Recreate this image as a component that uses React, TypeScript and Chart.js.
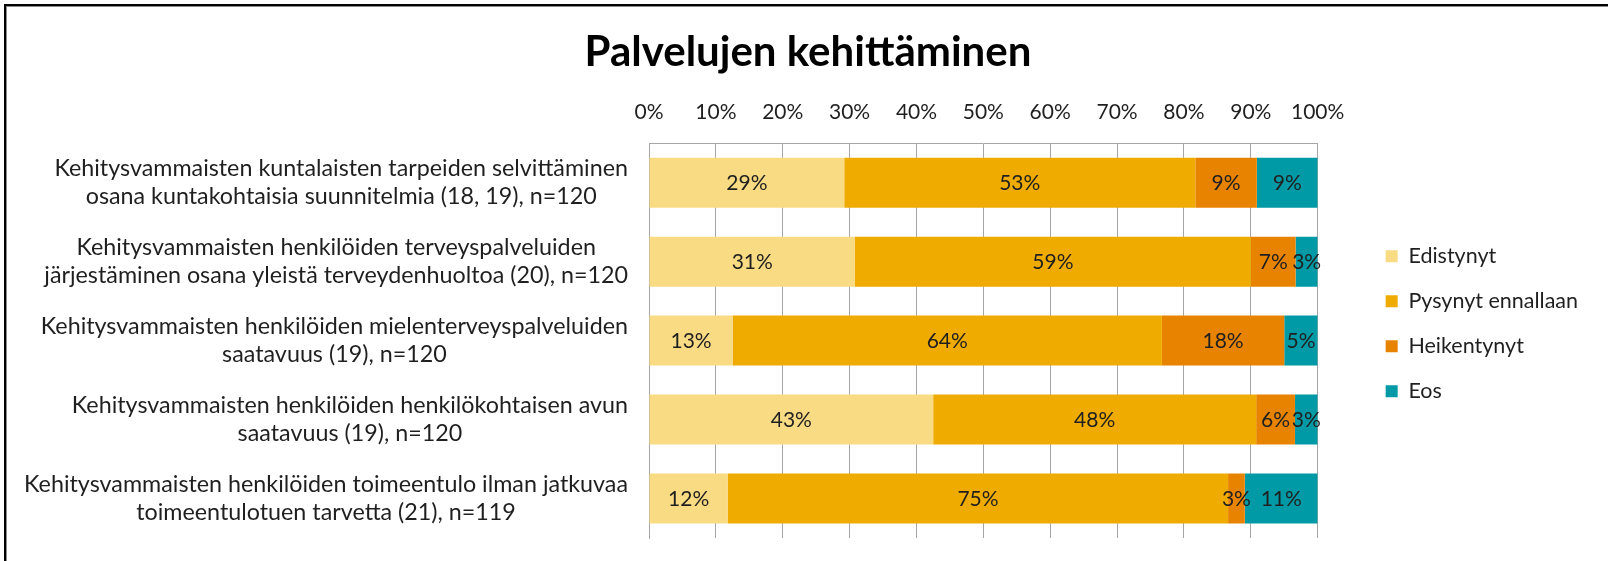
import React, { useEffect, useRef } from 'react';
import { Chart, registerables } from 'chart.js';

Chart.register(...registerables);

const TITLE = 'Palvelujen kehittäminen';

const categories: string[][] = [
  ['Kehitysvammaisten kuntalaisten tarpeiden selvittäminen', 'osana kuntakohtaisia suunnitelmia (18, 19), n=120'],
  ['Kehitysvammaisten henkilöiden terveyspalveluiden', 'järjestäminen osana yleistä terveydenhuoltoa (20), n=120'],
  ['Kehitysvammaisten henkilöiden mielenterveyspalveluiden', 'saatavuus (19), n=120'],
  ['Kehitysvammaisten henkilöiden henkilökohtaisen avun', 'saatavuus (19), n=120'],
  ['Kehitysvammaisten henkilöiden toimeentulo ilman jatkuvaa', 'toimeentulotuen tarvetta (21), n=119'],
];

const seriesNames = ['Edistynyt', 'Pysynyt ennallaan', 'Heikentynyt', 'Eos'];
const edistynyt = [29.2, 30.8, 12.5, 42.5, 11.8];
const pysynyt = [52.5, 59.2, 64.2, 48.3, 74.8];
const heikentynyt = [9.2, 6.7, 18.3, 5.8, 2.5];
const eos = [9.1, 3.3, 5.0, 3.4, 10.9];
const seriesColors = ['#F9DB83', '#EFAB00', '#E88300', '#009AA6'];

const xTickLabels = ['0%', '10%', '20%', '30%', '40%', '50%', '60%', '70%', '80%', '90%', '100%'];

const FONT = 'Lato';
const TEXT = '#1f1f1f';
const GRID = '#A6A6A6';

const borderPlugin = {
  id: 'outerBorder',
  afterDraw(chart: any) {
    const ctx = chart.ctx;
    ctx.save();
    ctx.fillStyle = '#000';
    ctx.fillRect(4, 4, chart.width - 4, 2);
    ctx.fillRect(4, 4, 2, chart.height - 4);
    ctx.fillStyle = '#8a8a8a';
    ctx.fillRect(6, 6, chart.width - 6, 1);
    ctx.fillRect(6, 6, 1, chart.height - 6);
    ctx.restore();
  },
};

const categoryLabelPlugin = {
  id: 'categoryLabels',
  afterDraw(chart: any) {
    const ctx = chart.ctx;
    const yScale = chart.scales.y;
    const right = chart.chartArea.left - 21;
    const lineGap = 28;
    ctx.save();
    ctx.font = `23.3px ${FONT}`;
    ctx.fillStyle = TEXT;
    ctx.textAlign = 'center';
    ctx.textBaseline = 'middle';
    (chart.data.labels as string[][]).forEach((lines, i) => {
      const y = yScale.getPixelForTick(i);
      const w = Math.max(...lines.map((l) => ctx.measureText(l).width));
      const cx = right - w / 2;
      lines.forEach((line, j) => {
        ctx.fillText(line, cx, y + (j - (lines.length - 1) / 2) * lineGap);
      });
    });
    ctx.restore();
  },
};

const valueLabelPlugin = {
  id: 'valueLabels',
  afterDatasetsDraw(chart: any) {
    const ctx = chart.ctx;
    ctx.save();
    ctx.font = `21px ${FONT}`;
    ctx.fillStyle = TEXT;
    ctx.textAlign = 'center';
    ctx.textBaseline = 'middle';
    chart.data.datasets.forEach((ds: any, di: number) => {
      const meta = chart.getDatasetMeta(di);
      meta.data.forEach((bar: any, i: number) => {
        const { x, base, y } = bar.getProps(['x', 'base', 'y'], true);
        ctx.fillText(Math.round(ds.data[i]) + '%', (x + base) / 2, y + 1);
      });
    });
    ctx.restore();
  },
};

export default function App() {
  const ref = useRef<HTMLCanvasElement>(null);

  useEffect(() => {
    if (!ref.current) return;
    Chart.defaults.font.family = FONT;
    const values = [edistynyt, pysynyt, heikentynyt, eos];
    const chart = new Chart(ref.current, {
      type: 'bar',
      data: {
        labels: categories as any,
        datasets: seriesNames.map((name, i) => ({
          label: name,
          data: values[i],
          backgroundColor: seriesColors[i],
          borderWidth: 0,
          barPercentage: 0.633,
          categoryPercentage: 1,
          yAxisID: 'y',
        })),
      },
      options: {
        indexAxis: 'y',
        responsive: false,
        animation: false,
        layout: { padding: { left: 28, right: 20, top: 0, bottom: 23 } },
        scales: {
          x: {
            position: 'top',
            stacked: true,
            min: 0,
            max: 100,
            ticks: {
              stepSize: 10,
              padding: 18.4,
              color: TEXT,
              font: { family: FONT, size: 21 },
              callback: (_v: any, i: number) => xTickLabels[i],
            },
            grid: { color: GRID, drawTicks: false, lineWidth: 1 },
            border: { display: true, color: GRID },
          },
          y: {
            stacked: true,
            ticks: { display: false },
            grid: { display: false },
            border: { display: true, color: GRID },
            afterFit: (s: any) => {
              s.width = 621;
            },
          },
          yR: {
            type: 'category',
            position: 'right',
            labels: categories.map((c) => c.join(' ')),
            grid: { display: false },
            border: { display: false },
            ticks: { display: false },
            afterFit: (s: any) => {
              s.width = 44.5;
            },
          },
        } as any,
        plugins: {
          title: {
            display: true,
            text: TITLE,
            color: '#000',
            font: { family: FONT, size: 42, weight: 'bold' },
            padding: { top: 27.5, bottom: 3.3 },
          },
          legend: {
            position: 'right',
            align: 'start',
            fullSize: false,
            title: { display: true, text: '', padding: { top: 77.5, bottom: 0 }, font: { size: 1 } },
            labels: {
              boxWidth: 12,
              boxHeight: 12,
              padding: 23.5,
              color: TEXT,
              font: { family: FONT, size: 21.5 },
            },
          },
          tooltip: { enabled: false },
        },
      },
      plugins: [borderPlugin, categoryLabelPlugin, valueLabelPlugin],
    });
    return () => chart.destroy();
  }, []);

  return (
    <div style={{ position: 'fixed', left: 0, top: 0, width: 1608, height: 561, background: '#fff' }}>
      <canvas ref={ref} width={1608} height={561} style={{ display: 'block' }} />
    </div>
  );
}
